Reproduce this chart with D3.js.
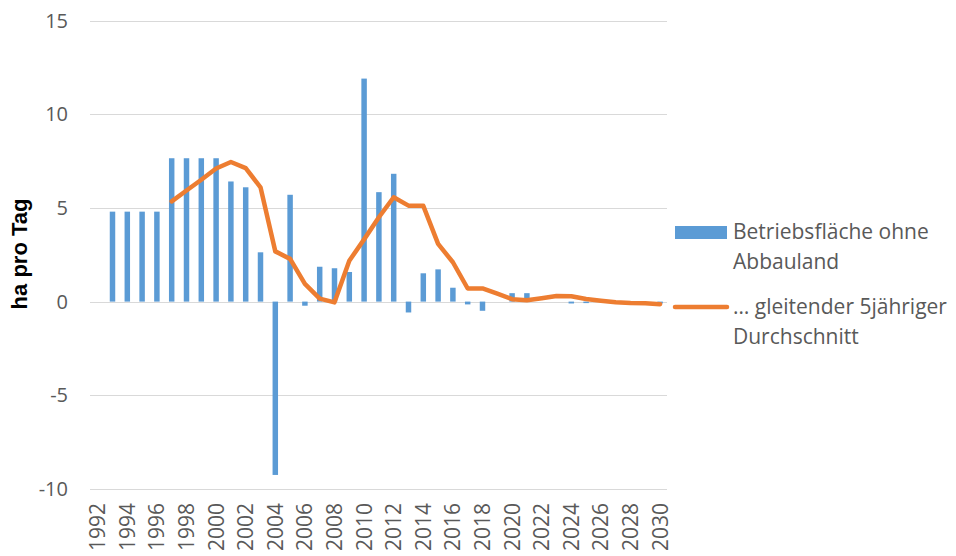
<!DOCTYPE html>
<html>
<head>
<meta charset="utf-8">
<script src="https://cdn.jsdelivr.net/npm/d3@7"></script>
<style>
  html, body { margin: 0; padding: 0; background: #fff; }
  svg { display: block; }
</style>
</head>
<body>
<svg id="chart" width="956" height="556"></svg>
<script>
const years = ["1992","1993","1994","1995","1996","1997","1998","1999","2000","2001","2002","2003","2004","2005","2006","2007","2008","2009","2010","2011","2012","2013","2014","2015","2016","2017","2018","2019","2020","2021","2022","2023","2024","2025","2026","2027","2028","2029","2030"];
const tickYears = ["1992","1994","1996","1998","2000","2002","2004","2006","2008","2010","2012","2014","2016","2018","2020","2022","2024","2026","2028","2030"];
const barValues = [null,4.8,4.8,4.8,4.8,7.65,7.65,7.65,7.65,6.41,6.1,2.63,-9.25,5.7,-0.22,1.86,1.78,1.58,11.9,5.84,6.82,-0.58,1.51,1.72,0.74,-0.15,-0.49,0,0.45,0.45,0,0,-0.1,-0.08,0,0,0,0,-0.1];
const avgValues = [null,null,null,null,null,5.35,5.93,6.5,7.1,7.45,7.12,6.1,2.68,2.28,0.95,0.16,-0.04,2.18,3.32,4.5,5.57,5.12,5.11,3.08,2.1,0.7,0.7,0.42,0.13,0.07,0.18,0.3,0.29,0.14,0.05,-0.03,-0.08,-0.09,-0.14];
const yTicks = [-10,-5,0,5,10,15];
const barLabel = ["Betriebsfläche ohne","Abbauland"];
const lineLabel = ["… gleitender 5jähriger","Durchschnitt"];
const yTitle = "ha pro Tag";

const svg = d3.select("#chart");
const textColor = "#595959";
const barColor = "#5B9BD5";
const lineColor = "#ED7D31";

const x = d3.scaleBand().domain(years).range([90.3, 667.5]).paddingInner(0.63).paddingOuter(0.315);
const xc = d => x(d) + x.bandwidth() / 2;
const y = d3.scaleLinear().domain([-10, 15]).range([489, 20.5]);

// gridlines
svg.append("g").selectAll("line").data(yTicks).join("line")
  .attr("x1", 90).attr("x2", 667)
  .attr("y1", d => Math.round(y(d)) + 0.5).attr("y2", d => Math.round(y(d)) + 0.5)
  .attr("stroke", "#D9D9D9").attr("stroke-width", 1);

// y tick labels
svg.append("g").selectAll("text").data(yTicks).join("text")
  .attr("x", 68).attr("y", d => y(d))
  .attr("dy", "0.35em")
  .attr("text-anchor", "end")
  .attr("font-family", "'Open Sans', sans-serif")
  .attr("font-size", 20)
  .attr("fill", textColor)
  .text(d => d);

// x tick labels
svg.append("g").selectAll("text").data(tickYears).join("text")
  .attr("transform", d => `translate(${xc(d)},503) rotate(-90)`)
  .attr("dy", "0.36em")
  .attr("text-anchor", "end")
  .attr("font-family", "'Open Sans', sans-serif")
  .attr("font-size", 21)
  .attr("fill", textColor)
  .text(d => d);

// y title
svg.append("text")
  .attr("transform", `translate(19,254) rotate(-90)`)
  .attr("dy", "0.35em")
  .attr("text-anchor", "middle")
  .attr("font-family", "'Liberation Sans', Arial, sans-serif")
  .attr("font-weight", "bold")
  .attr("font-size", 22)
  .attr("fill", "#000")
  .text(yTitle);

// bars
const barData = years.map((yr, i) => ({yr, v: barValues[i]})).filter(d => d.v !== null && d.v !== 0);
svg.append("g").selectAll("rect").data(barData).join("rect")
  .attr("x", d => x(d.yr))
  .attr("width", x.bandwidth())
  .attr("y", d => Math.min(y(d.v), y(0)))
  .attr("height", d => Math.abs(y(d.v) - y(0)))
  .attr("fill", barColor);

// moving average line
const lineData = years.map((yr, i) => ({yr, v: avgValues[i]})).filter(d => d.v !== null);
const line = d3.line().x(d => xc(d.yr)).y(d => y(d.v)).curve(d3.curveLinear);
svg.append("path").datum(lineData)
  .attr("d", line)
  .attr("fill", "none")
  .attr("stroke", lineColor)
  .attr("stroke-width", 4.5)
  .attr("stroke-linejoin", "round")
  .attr("stroke-linecap", "round");

// legend
const lg = svg.append("g");
lg.append("rect").attr("x", 675).attr("y", 226).attr("width", 52).attr("height", 13).attr("fill", barColor);
lg.append("line").attr("x1", 675).attr("x2", 727).attr("y1", 307).attr("y2", 307)
  .attr("stroke", lineColor).attr("stroke-width", 4.5).attr("stroke-linecap", "round");
const legText = (lines, cy) => {
  lg.append("g").selectAll("text").data(lines).join("text")
    .attr("x", 733)
    .attr("y", (d, i) => cy + i * 30)
    .attr("dy", "0.35em")
    .attr("font-family", "'Open Sans', sans-serif")
    .attr("font-size", 21)
    .attr("fill", textColor)
    .text(d => d);
};
legText(barLabel, 232);
legText(lineLabel, 307);
</script>
</body>
</html>
